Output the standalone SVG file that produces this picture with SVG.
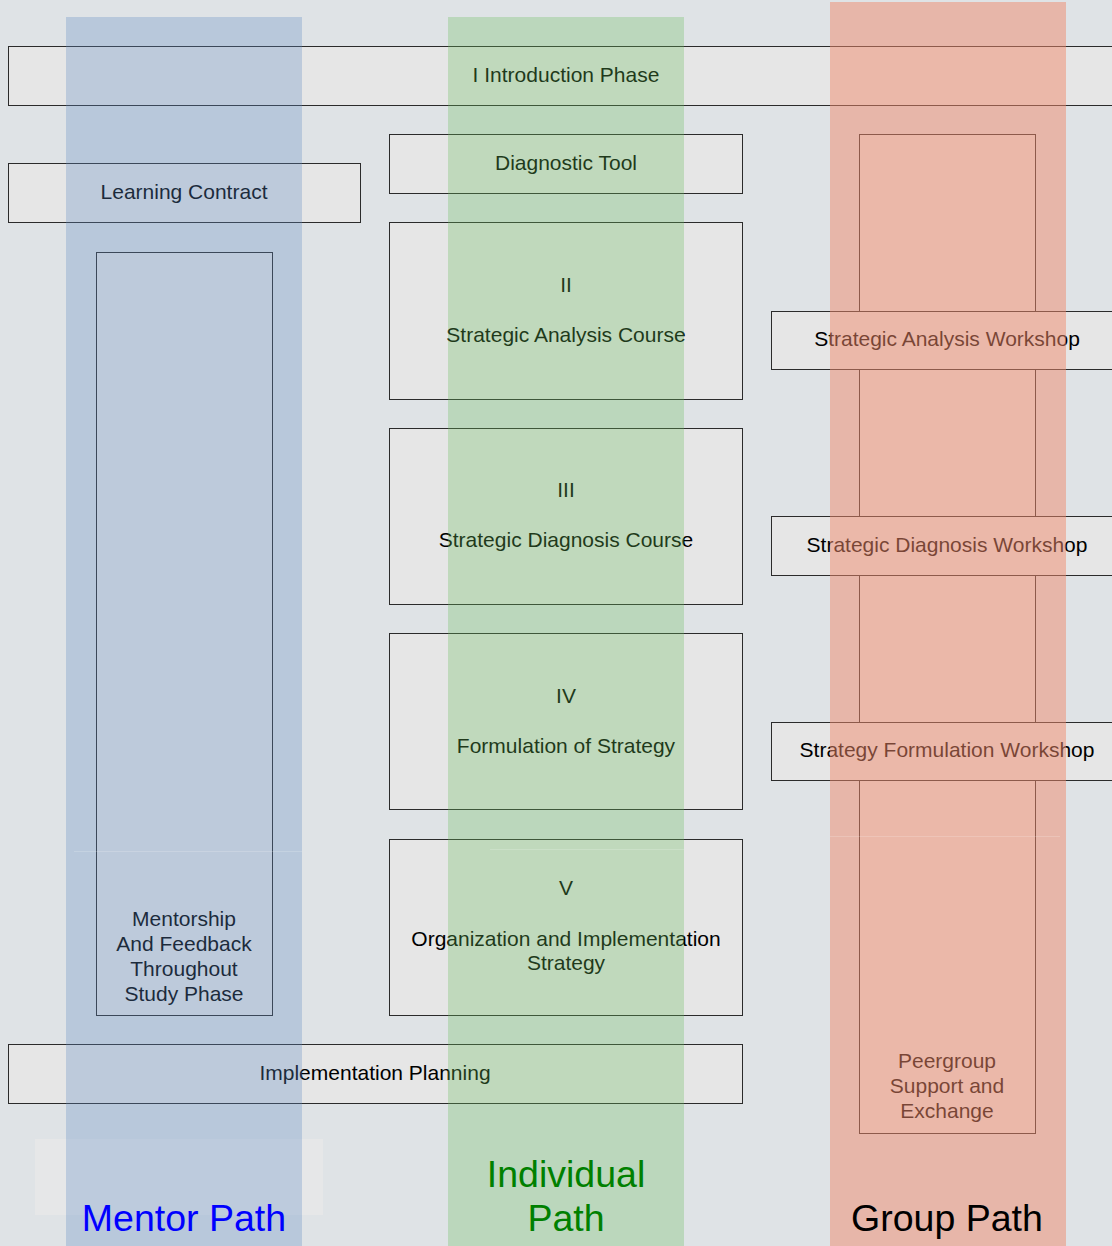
<svg xmlns="http://www.w3.org/2000/svg" width="1112" height="1246" viewBox="0 0 1112 1246">
<style>
.box{fill:#e6e6e6;stroke:#2b2b2b;stroke-width:1}
.t{font-family:"Liberation Sans",Arial,sans-serif;font-size:21px;fill:#000;text-anchor:middle}
.lbl{font-family:"Liberation Sans",Arial,sans-serif;font-size:37.5px;text-anchor:middle}
.seam{stroke:#ffffff;stroke-opacity:0.18;stroke-width:1}
</style>
<rect x="0" y="0" width="1112" height="1246" fill="#dfe3e6"/>
<rect x="35" y="1139" width="288" height="76" fill="#e8e8e8" opacity="0.7"/>
<g id="intro"><rect class="box" x="8.5" y="46.5" width="1116" height="59"/><text class="t" x="566" y="82">I Introduction Phase</text></g>
<g id="diagnostic"><rect class="box" x="389.5" y="134.5" width="353" height="59"/><text class="t" x="566" y="170">Diagnostic Tool</text></g>
<g id="learning"><rect class="box" x="8.5" y="163.5" width="352" height="59"/><text class="t" x="184" y="199">Learning Contract</text></g>
<g id="mentorship"><rect class="box" x="96.5" y="252.5" width="176" height="763"/><text class="t" x="184" y="926">Mentorship</text><text class="t" x="184" y="951">And Feedback</text><text class="t" x="184" y="976">Throughout</text><text class="t" x="184" y="1001">Study Phase</text></g>
<g id="course2"><rect class="box" x="389.5" y="222.5" width="353" height="177"/><text class="t" x="566" y="292">II</text><text class="t" x="566" y="342">Strategic Analysis Course</text></g>
<g id="course3"><rect class="box" x="389.5" y="428.5" width="353" height="176"/><text class="t" x="566" y="497">III</text><text class="t" x="566" y="547">Strategic Diagnosis Course</text></g>
<g id="course4"><rect class="box" x="389.5" y="633.5" width="353" height="176"/><text class="t" x="566" y="703">IV</text><text class="t" x="566" y="753">Formulation of Strategy</text></g>
<g id="course5"><rect class="box" x="389.5" y="839.5" width="353" height="176"/><text class="t" x="566" y="895">V</text><text class="t" x="566" y="946">Organization and Implementation</text><text class="t" x="566" y="970">Strategy</text></g>
<g id="implementation"><rect class="box" x="8.5" y="1044.5" width="734" height="59"/><text class="t" x="375" y="1080">Implementation Planning</text></g>
<g id="peergroup"><rect class="box" x="859.5" y="134.5" width="176" height="999"/><text class="t" x="947" y="1068">Peergroup</text><text class="t" x="947" y="1093">Support and</text><text class="t" x="947" y="1118">Exchange</text></g>
<g id="ws-analysis"><rect class="box" x="771.5" y="311.5" width="352" height="58"/><text class="t" x="947" y="346">Strategic Analysis Workshop</text></g>
<g id="ws-diagnosis"><rect class="box" x="771.5" y="516.5" width="352" height="59"/><text class="t" x="947" y="552">Strategic Diagnosis Workshop</text></g>
<g id="ws-formulation"><rect class="box" x="771.5" y="722.5" width="352" height="58"/><text class="t" x="947" y="757">Strategy Formulation Workshop</text></g>
<g id="connectors"></g>
<g id="lanes">
<rect id="lane-mentor" x="66" y="17" width="236" height="1229" fill="#618ac5" opacity="0.3"/>
<rect id="lane-individual" x="448" y="17" width="236" height="1229" fill="#6abe5d" opacity="0.3"/>
<rect id="lane-group" x="830" y="2" width="236" height="1244" fill="#f08a6c" opacity="0.5"/>
<line class="seam" x1="74" y1="851.5" x2="302" y2="851.5"/>
<line class="seam" x1="490" y1="849.5" x2="684" y2="849.5"/>
<line class="seam" x1="830" y1="836.5" x2="1060" y2="836.5"/>
</g>
<g id="labels">
<text class="lbl" x="184" y="1231" fill="#0000ff">Mentor Path</text>
<text class="lbl" x="566" y="1187" fill="#008000">Individual</text>
<text class="lbl" x="566" y="1231" fill="#008000">Path</text>
<text class="lbl" x="947" y="1231" fill="#000000">Group Path</text>
</g>
</svg>
